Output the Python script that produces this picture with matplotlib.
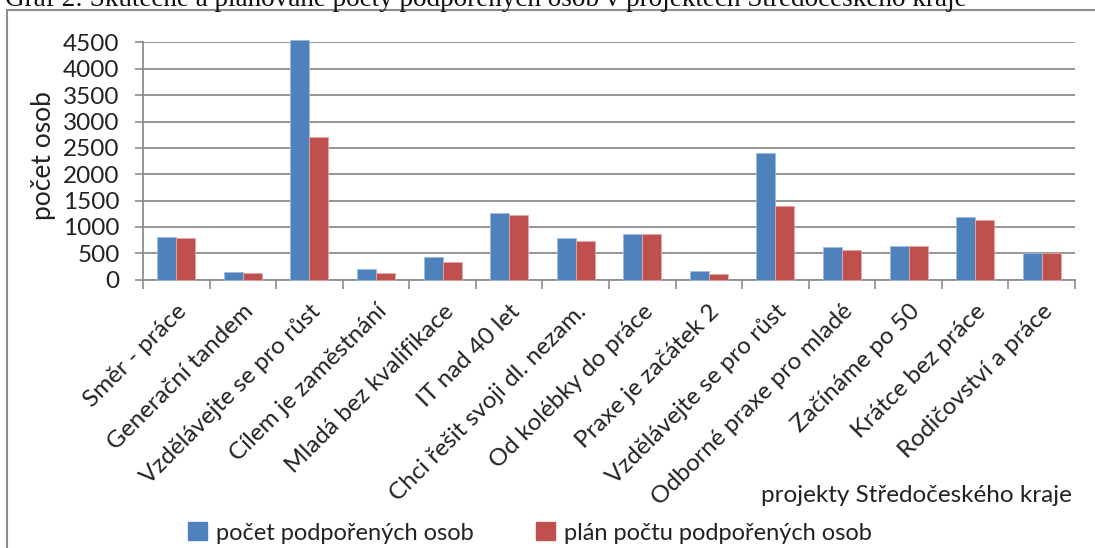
import matplotlib
matplotlib.use("Agg")
import matplotlib.pyplot as plt
from matplotlib.lines import Line2D
from matplotlib.patches import Patch
import numpy as np

projekty = ["Směr - práce", "Generační tandem", "Vzdělávejte se pro růst",
            "Cílem je zaměstnání", "Mladá bez kvalifikace", "IT nad 40 let",
            "Chci řešit svoji dl. nezam.", "Od kolébky do práce", "Praxe je začátek 2",
            "Vzdělávejte se pro růst", "Odborné praxe pro mladé", "Začínáme po 50",
            "Krátce bez práce", "Rodičovství a práce"]
skutecnost = [815, 150, 4550, 210, 430, 1265, 790, 860, 160, 2400, 620, 640, 1185, 500]
plan = [790, 125, 2700, 135, 335, 1235, 730, 860, 115, 1390, 570, 630, 1140, 500]
yticks = [0, 500, 1000, 1500, 2000, 2500, 3000, 3500, 4000, 4500]

plt.rcParams['font.family'] = ['Lato', 'DejaVu Sans']

modra = "#4F81BD"
cervena = "#C0504D"
seda = "#8C8C8C"
text_barva = "#222222"
W, H = 1095, 548

fig = plt.figure(figsize=(10.95, 5.48), dpi=100)
ax = fig.add_axes([143 / W, 1 - 279.7 / H, 932 / W, 237.2 / H])

x = np.arange(len(projekty))
w = 0.285
ax.bar(x - w / 2, skutecnost, w, color=modra, edgecolor="#9dbbe0", linewidth=0.6, zorder=3, clip_on=False)
ax.bar(x + w / 2, plan, w, color=cervena, edgecolor="#e3a9a7", linewidth=0.6, zorder=3, clip_on=False)

ax.set_xlim(-0.5, len(projekty) - 0.5)
ax.set_ylim(0, 4500)
ax.set_yticks(yticks)
ax.tick_params(axis='y', labelsize=17.5, length=5.8, width=1.2, color=seda, pad=11, labelcolor=text_barva)
ax.yaxis.grid(True, color=seda, linewidth=1.3, zorder=0)
ax.set_axisbelow(True)

# ticks between categories, labels at the centres
ax.set_xticks(np.arange(-0.5, len(projekty), 1.0))
ax.set_xticklabels([])
ax.tick_params(axis='x', which='major', length=6.3, width=1.2, color=seda)
ax.set_xticks(x, minor=True)
ax.set_xticklabels(projekty, minor=True, rotation=45, ha='right', va='top',
                   rotation_mode='anchor', fontsize=17.5, color=text_barva)
ax.tick_params(axis='x', which='minor', length=0, pad=15)

for s in ['top', 'right']:
    ax.spines[s].set_visible(False)
for s in ['left', 'bottom']:
    ax.spines[s].set_color(seda)
    ax.spines[s].set_linewidth(1.3)

fig.text(44 / W, 1 - 156 / H, "počet osob", rotation=90, ha='center', va='center',
         fontsize=19, color=text_barva)

fig.text(1072 / W, 1 - 495 / H, "projekty Středočeského kraje", ha='right', va='center',
         fontsize=17.5, color=text_barva)

handles = [Patch(color=modra), Patch(color=cervena)]
fig.legend(handles, ["počet podpořených osob", "plán počtu podpořených osob"],
           loc='center', bbox_to_anchor=(530 / W, 1 - 533 / H), ncol=2, frameon=False,
           fontsize=17, handlelength=0.8, handleheight=0.8, handletextpad=0.4,
           columnspacing=2.6, labelcolor=text_barva, borderpad=0)

# chart frame (cut by the page)
fig.add_artist(Line2D([7 / W, 1], [1 - 10 / H, 1 - 10 / H], transform=fig.transFigure,
                      color=seda, linewidth=1.5))
fig.add_artist(Line2D([7 / W, 7 / W], [0, 1 - 10 / H], transform=fig.transFigure,
                      color=seda, linewidth=1.5))

# caption from the page, mostly above the crop
fig.text(5 / W, 1 - 6 / H,
         "Graf 2: Skutečné a plánované počty podpořených osob v projektech Středočeského kraje",
         ha='left', va='baseline', fontsize=19.5, family='Liberation Serif', color="#111111")

fig.savefig("out.png", dpi=100)
